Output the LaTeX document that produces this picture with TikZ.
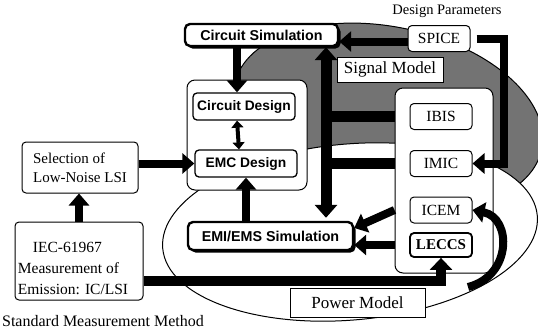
\documentclass[tikz,border=0pt]{standalone}
\usepackage{fontspec}
\setmainfont{Liberation Serif}
\setsansfont{Liberation Sans}
\usetikzlibrary{arrows.meta,shadows,positioning}

\begin{document}
\begin{tikzpicture}[x=1pt, y=-1pt,
    sbox/.style={draw, line width=1pt, rounded corners=4pt, fill=white, inner sep=0pt},
    cont/.style={draw, line width=1pt, rounded corners=8pt, fill=white},
    simbox/.style={draw, line width=2.4pt, rounded corners=5pt, fill=white, inner sep=0pt,
        font=\sffamily\bfseries\fontsize{14.3}{16}\selectfont,
        drop shadow={shadow xshift=2.5pt, shadow yshift=-2.5pt, fill=black, opacity=1}},
    desbox/.style={sbox, line width=1.3pt, font=\sffamily\bfseries\fontsize{13.8}{16}\selectfont,
        minimum width=102pt, minimum height=27pt},
    modbox/.style={sbox, font=\fontsize{15.5}{18}\selectfont, minimum width=62pt, minimum height=26pt},
    tag/.style={draw, line width=1pt, fill=white, inner sep=0pt, font=\fontsize{17}{20}\selectfont},
    fat/.style={line width=8pt, -{Triangle[length=12pt,width=20pt]}},
    bar/.style={line width=11pt},
]
    \useasboundingbox (0,0) rectangle (538,333);

    % signal model area (shaded) and power model area
    \draw[line width=1pt, fill=black!55, rotate around={-12:(388,117)}] (388,117) ellipse (157pt and 90pt);
    \draw[line width=1pt, fill=white, rotate around={5:(350,232)}] (350,232) ellipse (188pt and 88pt);

    % containers
    \node[cont, minimum width=120pt, minimum height=110pt] (dsgn) at (247,135) {};
    \node[cont, minimum width=98pt, minimum height=185pt] (mdls) at (444,180.5) {};

    % design flow
    \node[simbox, minimum width=153pt, minimum height=22pt] (cirsim) at (261.5,35) {Circuit Simulation};
    \node[desbox] (cirdes) at (244,106.5) {Circuit Design};
    \node[desbox] (emcdes) at (246,163.5) {EMC Design};
    \node[simbox, minimum width=165pt, minimum height=28pt] (emisim) at (270.5,236) {EMI/EMS Simulation};

    % models
    \node[modbox] (spice) at (439,38.5) {SPICE};
    \node[modbox] (ibis) at (441,116.5) {IBIS};
    \node[modbox] (imic) at (441,163.5) {IMIC};
    \node[modbox] (icem) at (441,210) {ICEM};
    \node[modbox, line width=1.8pt, minimum height=24pt, font=\bfseries\fontsize{15}{18}\selectfont] (leccs) at (441,245) {LECCS};
    \node[tag, minimum width=106pt, minimum height=25pt] (sigmod) at (390,69.5) {Signal Model};
    \node[tag, minimum width=135pt, minimum height=29pt] (pwrmod) at (357.5,302.5) {Power Model};

    % measurement side
    \node[sbox, minimum width=116pt, minimum height=51pt, align=left, font=\fontsize{15}{19}\selectfont] (select) at (80,167.5)
        {Selection of\\Low-Noise LSI};
    \node[sbox, minimum width=128pt, minimum height=78pt] (iec) at (79,261) {};
    \node[align=left, font=\fontsize{15.5}{21}\selectfont] (iectxt) at (73,268)
        {\hspace*{15pt}IEC-61967\\Measurement of\\Emission: IC/LSI};

    \node[font=\fontsize{14.5}{17}\selectfont] (dparam) at (447,11) {Design Parameters};
    \node[font=\fontsize{16}{19}\selectfont] (stdmeth) at (103,321) {Standard Measurement Method};

    % connectors
    \coordinate (bus) at (326,0);
    \draw[fat] (select.east |- emcdes.west) -- (emcdes.west);
    \draw[fat] (iec.north) -- (iec.north |- select.south);
    \draw[line width=10pt, -{Triangle[length=12pt,width=22pt]}] ([yshift=-20pt]iec.east) -| (leccs.south);
    \draw[fat] ([xshift=-7pt]cirdes.north |- cirsim.south) -- ([xshift=-7pt]cirdes.north);
    \draw[line width=4pt, {Triangle[length=7pt,width=12pt]}-{Triangle[length=7pt,width=12pt]}]
        ([xshift=-7pt]cirdes.south) -- ([xshift=-7pt]emcdes.north);
    \draw[fat] (emcdes.south |- emisim.north) -- (emcdes.south);
    \draw[fat] ([yshift=-3pt]spice.west) -- ([yshift=-3pt]spice.west -| cirsim.east);
    \draw[bar] (bus |- ibis) -- (mdls.west |- ibis);
    \draw[bar] (bus |- imic) -- (mdls.west |- imic);
    \draw[line width=11pt, {Triangle[length=13pt,width=22pt]}-{Triangle[length=13pt,width=22pt]}]
        (bus |- cirsim.south) -- ([yshift=3pt]bus |- emisim.north);
    \draw[fat] (mdls.west |- icem) -- ([yshift=8pt]emisim.east);
    \draw[fat] (mdls.west |- leccs) -- (emisim.east |- leccs);
    \draw[fat, shorten <=6pt] (spice.east) -- ++(33,0) |- (imic.east);
    \coordinate (pwrend) at (468,287);
    \draw[fat] (pwrend) .. controls (512,276) and (512,218) .. (icem.east);
\end{tikzpicture}
\end{document}
